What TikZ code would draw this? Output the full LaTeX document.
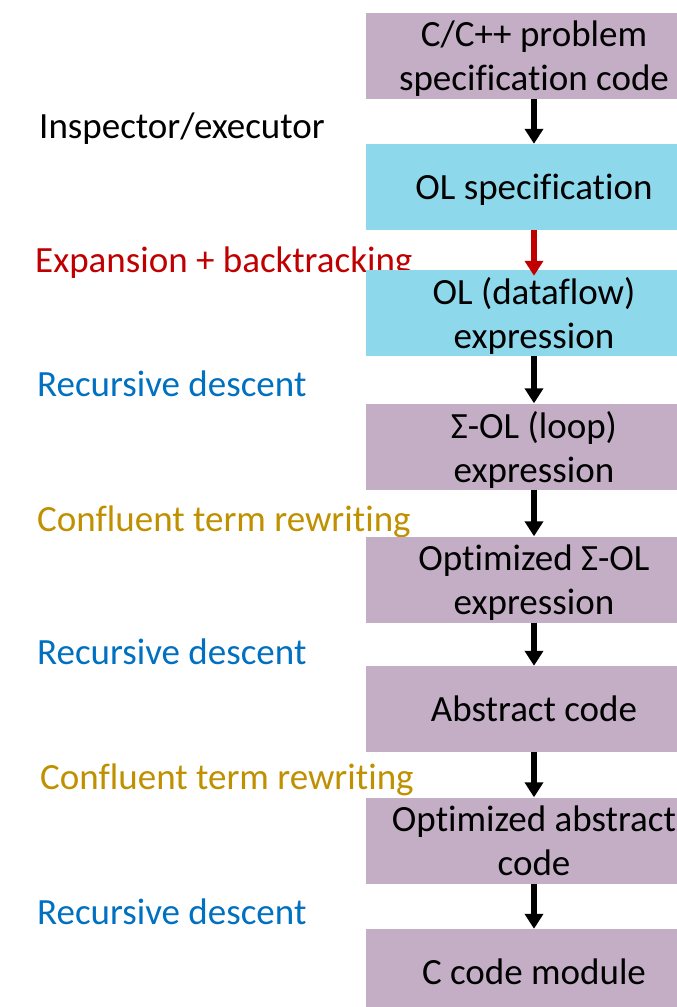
\documentclass[tikz,border=0pt]{standalone}
\usepackage{fontspec}
\setmainfont{Carlito}[Ligatures=NoCommon]
\usetikzlibrary{arrows.meta}
\definecolor{mauve}{HTML}{C3AEC6}
\definecolor{skyfill}{HTML}{8ED8EC}
\definecolor{redtext}{HTML}{C00000}
\definecolor{bluetext}{HTML}{0070C0}
\definecolor{goldtext}{HTML}{BF9000}
\begin{document}
\begin{tikzpicture}[x=1pt,y=-1pt,
  stage/.style={rectangle, fill=mauve, minimum width=336pt, minimum height=86pt,
    inner sep=0pt, align=center, text depth=0pt, font=\fontsize{37}{44}\selectfont},
  olstage/.style={stage, fill=skyfill},
  note/.style={anchor=base west, inner sep=0pt, font=\fontsize{37}{44}\selectfont},
  flow/.style={-{Triangle[width=18pt,length=15pt]}, line width=5.5pt, black}]
\path[use as bounding box] (0,0) rectangle (677,1007);
\clip (0,0) rectangle (677,1007);

% transformation labels on the left
\node[note]                 (t1) at (39,138) {Inspector/executor};
\node[note,text=redtext]    (t2) at (35,272) {Expansion + backtracking};
\node[note,text=bluetext]   (t3) at (37,396) {Recursive descent};
\node[note,text=goldtext]   (t4) at (37,531) {Confluent term rewriting};
\node[note,text=bluetext]   (t5) at (37,664) {Recursive descent};
\node[note,text=goldtext]   (t6) at (40,789) {Confluent term rewriting};
\node[note,text=bluetext]   (t7) at (37,924) {Recursive descent};

% representation stages
\node[stage]   (b1) at (534,56)    {C/C++ problem\\specification code};
\node[olstage] (b2) at (534,187)   {OL specification};
\node[olstage] (b3) at (534,313)   {OL (dataflow)\\expression};
\node[stage]   (b4) at (534,446.5) {Σ-OL (loop)\\expression};
\node[stage]   (b5) at (534,579.5) {Optimized Σ-OL\\expression};
\node[stage]   (b6) at (534,709)   {Abstract code};
\node[stage]   (b7) at (534,840.5) {Optimized abstract\\code};
\node[stage]   (b8) at (534,972)   {C code module};

% flow between stages
\draw[flow] (b1.south) -- (b2.north);
\draw[flow,redtext] (b2.south) -- ([yshift=-6pt]b3.north);
\draw[flow] (b3.south) -- (b4.north);
\draw[flow] (b4.south) -- (b5.north);
\draw[flow] (b5.south) -- (b6.north);
\draw[flow] (b6.south) -- (b7.north);
\draw[flow] (b7.south) -- (b8.north);
\end{tikzpicture}
\end{document}
